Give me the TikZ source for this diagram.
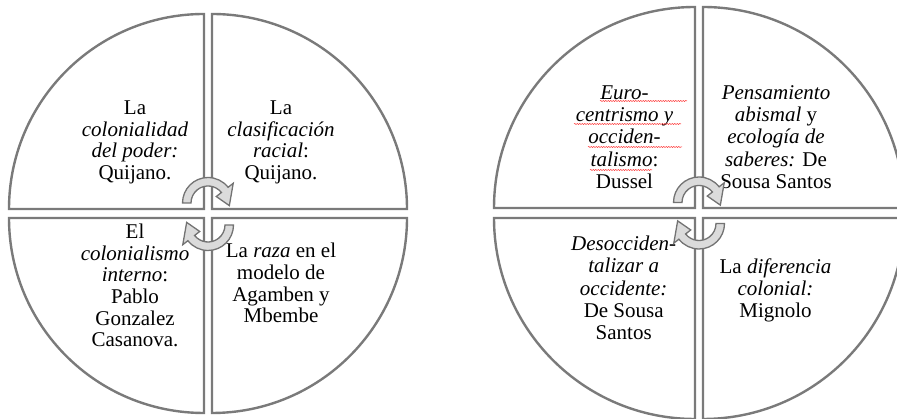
\documentclass[tikz,border=0pt]{standalone}
\usepackage{fontspec}
\setmainfont{Liberation Serif}
\usetikzlibrary{decorations.pathmorphing}

%% one half turn of the cycle arrow, drawn round (0,0)
\newcommand{\halfTurn}{%
  \filldraw[arrowDecorate] (180:25.5) arc[start angle=180,end angle=38,radius=25.5]
    -- (38:32) -- (-7:21.5) -- (38:10.5) -- (38:17)
    arc[start angle=38,end angle=180,radius=17] -- cycle;}

\begin{document}
\begin{tikzpicture}
[x=1pt,y=1pt,%
  quadDecorate/.style={draw=black!52,line width=2.4pt,line join=miter},%
  textDecorate/.style={align=center,inner sep=0pt,font=\fontsize{21}{21.7}\selectfont},%
  textDecorateB/.style={textDecorate,font=\fontsize{21}{22.3}\selectfont},%
  arrowDecorate/.style={fill=black!14,draw=black!55,line width=1.3pt,line join=miter},%
  spellDecorate/.style={draw=red!85,line width=0.5pt,decorate,
    decoration={snake,amplitude=0.5pt,segment length=2.5pt}}]
\useasboundingbox (0,0) rectangle (897,419);
\clip (0,0) rectangle (897,419);
%% left circle
\begin{scope}[shift={(208,205.5)}]
\draw[quadDecorate] (-4,4.5) -- ++(-195,0) arc[start angle=180,end angle=90,radius=195] -- cycle;
\draw[quadDecorate] (4,4.5) -- ++(0,195) arc[start angle=90,end angle=0,radius=195] -- cycle;
\draw[quadDecorate] (4,-4.5) -- ++(195,0) arc[start angle=0,end angle=-90,radius=195] -- cycle;
\draw[quadDecorate] (-4,-4.5) -- ++(0,-195) arc[start angle=270,end angle=180,radius=195] -- cycle;
\end{scope}
%% right circle
\begin{scope}[shift={(699,206)}]
\draw[quadDecorate] (-4,5) -- ++(-201,0) arc[start angle=180,end angle=90,radius=201] -- cycle;
\draw[quadDecorate] (4,5) -- ++(0,201) arc[start angle=90,end angle=0,radius=201] -- cycle;
\draw[quadDecorate] (4,-5) -- ++(201,0) arc[start angle=0,end angle=-90,radius=201] -- cycle;
\draw[quadDecorate] (-4,-5) -- ++(0,-201) arc[start angle=270,end angle=180,radius=201] -- cycle;
\end{scope}
%% texts of the left circle
\node (poder) at (135,276.5) [textDecorate] {La\\\textit{colonialidad}\\\textit{del poder:}\\Quijano.};
\node (clasif) at (281,276.5) [textDecorate] {La\\\textit{clasificación}\\\textit{racial}:\\Quijano.};
\node (interno) at (135,133.5) [textDecorate] {El\\\textit{colonialismo}\\\textit{interno}:\\Pablo\\Gonzalez\\Casanova.};
\node (raza) at (281,136) [textDecorate] {La \textit{raza} en el\\modelo de\\Agamben y\\Mbembe};
%% texts of the right circle
\node (euro) at (624.5,282) [textDecorateB] {\textit{Euro-}\\\textit{centrismo y}\\\textit{occiden-}\\\textit{talismo}:\\Dussel};
\node (abismal) at (776,282) [textDecorateB] {\textit{Pensamiento}\\\textit{abismal} y\\\textit{ecología de}\\\textit{saberes:} De\\Sousa Santos};
\node (desocc) at (623.7,131) [textDecorateB] {\textit{Desocciden-}\\\textit{talizar a}\\\textit{occidente:}\\De Sousa\\Santos};
\node (diferencia) at (775.5,128.5) [textDecorateB] {La \textit{diferencia}\\\textit{colonial:}\\Mignolo};
%% spelling marks under the Dussel text
\draw[spellDecorate] (600,318) -- (687,318);
\draw[spellDecorate] (574,295) -- (681,295);
\draw[spellDecorate] (588,272) -- (682,272);
\draw[spellDecorate] (590,249) -- (652,249);
%% cycle arrows
\begin{scope}[shift={(208,216)}]\halfTurn\end{scope}
\begin{scope}[shift={(208,194)},rotate=180]\halfTurn\end{scope}
\begin{scope}[shift={(699,216.5)}]\halfTurn\end{scope}
\begin{scope}[shift={(699,195.5)},rotate=180]\halfTurn\end{scope}
\end{tikzpicture}
\end{document}
